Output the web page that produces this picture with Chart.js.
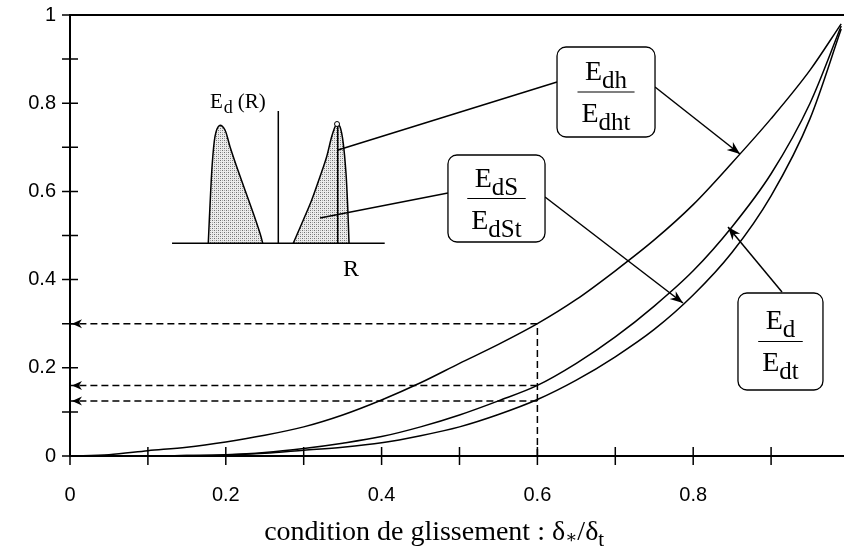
<!DOCTYPE html>
<html>
<head>
<meta charset="utf-8">
<script src="https://cdn.jsdelivr.net/npm/chart.js@4.4.1/dist/chart.umd.min.js"></script>
<style>
  html, body { margin: 0; padding: 0; background: #fff; overflow: hidden; }
  #chart { display: block; width: 844px; height: 553px; }
</style>
</head>
<body>
<canvas id="chart" width="844" height="553"></canvas>
<script>
// condition de glissement (delta* / delta_t)
const slip = [0, 0.05, 0.1, 0.15, 0.2, 0.25, 0.3, 0.35, 0.4, 0.45, 0.5, 0.55, 0.6, 0.65, 0.7, 0.75, 0.8, 0.85, 0.9, 0.95, 0.99];
// Edh / Edht (upper curve)
const edhRatio = [0, 0.003, 0.012, 0.02, 0.032, 0.047, 0.066, 0.093, 0.127, 0.166, 0.21, 0.253, 0.3, 0.355, 0.42, 0.49, 0.57, 0.665, 0.765, 0.875, 0.98];
// Ed / Edt (middle curve)
const edRatio = [0, 0, 0, 0.001, 0.003, 0.008, 0.017, 0.029, 0.044, 0.066, 0.093, 0.125, 0.16, 0.21, 0.27, 0.34, 0.42, 0.52, 0.64, 0.8, 0.975];
// EdS / EdSt (lower curve)
const edsRatio = [0, 0, 0, 0.001, 0.002, 0.006, 0.013, 0.02, 0.03, 0.046, 0.066, 0.094, 0.128, 0.172, 0.225, 0.287, 0.365, 0.462, 0.59, 0.765, 0.968];
// dashed read-off at slip = 0.6
const refSlip = 0.6;
const refLevels = [0.3, 0.16, 0.125];
const tickStep = 0.2;
const minorStep = 0.1;
const xVisibleMax = 0.9936; // the x axis runs past the right edge of the picture

const SERIF = '"Liberation Serif", "DejaVu Serif", serif';
const SANS = '"Liberation Sans", Arial, sans-serif';

function curve(values) {
    return {
        data: slip.map((s, i) => ({ x: s, y: values[i] })),
        borderColor: '#000',
        borderWidth: 1.5,
        pointRadius: 0,
        cubicInterpolationMode: 'monotone',
        fill: false
    };
}

function dashed(points) {
    return {
        data: points,
        borderColor: '#000',
        borderWidth: 1.5,
        borderDash: [7, 4],
        pointRadius: 0,
        fill: false
    };
}

const datasets = [curve(edhRatio), curve(edRatio), curve(edsRatio)];
datasets.push(dashed([{ x: refSlip, y: 0 }, { x: refSlip, y: refLevels[0] }]));
refLevels.forEach(l => datasets.push(dashed([{ x: refSlip, y: l }, { x: 0, y: l }])));

// inset sketch of Ed(R), in axis units
const insetBase = { x0: 0.131, x1: 0.404, y: 0.4823 };
const insetAxis = { x: 0.2674, y0: 0.4823, y1: 0.7823 };
const leftPeak = [[0.1775, 0.4823], [0.1795, 0.56], [0.1825, 0.66], [0.1861, 0.724], [0.1917, 0.749], [0.199, 0.7392], [0.2054, 0.7014], [0.214, 0.656], [0.2246, 0.6032], [0.2353, 0.5503], [0.2439, 0.505], [0.2474, 0.4823]];
const rightPeak = [[0.2866, 0.4823], [0.2995, 0.5351], [0.3103, 0.5805], [0.3209, 0.6333], [0.3295, 0.6787], [0.3359, 0.724], [0.3415, 0.7506], [0.3466, 0.7467], [0.3508, 0.7091], [0.3543, 0.641], [0.3565, 0.5653], [0.3582, 0.4823]];

// label boxes [x0, y0(top), x1, y1(bottom)] in axis units
const boxes = [
    { r: [0.6252, 0.9274, 0.751, 0.7234], num: ['E', 'dh'], den: ['E', 'dht'] },
    { r: [0.4852, 0.6825, 0.6098, 0.4853], num: ['E', 'dS'], den: ['E', 'dSt'] },
    { r: [0.8575, 0.3696, 0.9666, 0.1497], num: ['E', 'd'], den: ['E', 'dt'] }
];
const leaders = [
    [[0.6252, 0.8481], [0.344, 0.6939]],
    [[0.4852, 0.5964], [0.3209, 0.5397]]
];
const arrows = [
    [[0.751, 0.8367], [0.8601, 0.6848]],
    [[0.6098, 0.5873], [0.7869, 0.3469]],
    [[0.914, 0.3719], [0.8447, 0.5193]]
];

function makePattern(ctx) {
    const c = document.createElement('canvas');
    c.width = 4; c.height = 4;
    const p = c.getContext('2d');
    p.fillStyle = '#ececec';
    p.fillRect(0, 0, 4, 4);
    p.fillStyle = '#707070';
    p.fillRect(0, 0, 1, 1);
    p.fillRect(2, 2, 1, 1);
    p.fillStyle = '#a8a8a8';
    p.fillRect(2, 0, 1, 1);
    p.fillRect(0, 2, 1, 1);
    return ctx.createPattern(c, 'repeat');
}

// smooth path through points (Catmull-Rom)
function smoothPath(ctx, pts) {
    ctx.moveTo(pts[0][0], pts[0][1]);
    for (let i = 0; i < pts.length - 1; i++) {
        const p0 = pts[Math.max(i - 1, 0)], p1 = pts[i], p2 = pts[i + 1], p3 = pts[Math.min(i + 2, pts.length - 1)];
        ctx.bezierCurveTo(
            p1[0] + (p2[0] - p0[0]) / 6, p1[1] + (p2[1] - p0[1]) / 6,
            p2[0] - (p3[0] - p1[0]) / 6, p2[1] - (p3[1] - p1[1]) / 6,
            p2[0], p2[1]);
    }
}

function arrowHead(ctx, fx, fy, tx, ty, len, half) {
    const a = Math.atan2(ty - fy, tx - fx);
    ctx.beginPath();
    ctx.moveTo(tx, ty);
    ctx.lineTo(tx - len * Math.cos(a) + half * Math.sin(a), ty - len * Math.sin(a) - half * Math.cos(a));
    ctx.lineTo(tx - len * 0.7 * Math.cos(a), ty - len * 0.7 * Math.sin(a));
    ctx.lineTo(tx - len * Math.cos(a) - half * Math.sin(a), ty - len * Math.sin(a) + half * Math.cos(a));
    ctx.closePath();
    ctx.fill();
}

function subText(ctx, x, y, main, sub, size, subSize, drop) {
    ctx.font = size + 'px ' + SERIF;
    const w1 = ctx.measureText(main).width;
    ctx.font = subSize + 'px ' + SERIF;
    const w2 = ctx.measureText(sub).width;
    const start = x - (w1 + w2) / 2;
    ctx.font = size + 'px ' + SERIF;
    ctx.fillText(main, start, y);
    ctx.font = subSize + 'px ' + SERIF;
    ctx.fillText(sub, start + w1, y + drop);
    return w1 + w2;
}

const sketch = {
    id: 'sketch',
    afterDraw(chart) {
        const { ctx, scales: { x, y } } = chart;
        const X = v => x.getPixelForValue(v);
        const Y = v => y.getPixelForValue(v);
        ctx.save();
        ctx.strokeStyle = '#000';
        ctx.fillStyle = '#000';
        ctx.lineCap = 'butt';

        // top frame line
        ctx.lineWidth = 2;
        ctx.beginPath();
        ctx.moveTo(X(0), Y(1));
        ctx.lineTo(X(xVisibleMax), Y(1));
        ctx.stroke();

        // tick marks crossing the axes
        ctx.lineWidth = 1.5;
        for (let i = 0; i <= 10; i++) {
            const v = i * minorStep;
            ctx.beginPath();
            if (v <= xVisibleMax) {
                ctx.moveTo(X(v), Y(0) - 9);
                ctx.lineTo(X(v), Y(0) + 9);
            }
            ctx.moveTo(X(0) - 8, Y(v));
            ctx.lineTo(X(0) + 8, Y(v));
            ctx.stroke();
        }

        // arrowheads of the dashed read-off lines
        refLevels.forEach(l => arrowHead(ctx, X(refSlip), Y(l), X(0) + 2, Y(l), 10, 4.5));

        // inset
        const pat = makePattern(ctx);
        [leftPeak, rightPeak].forEach(pk => {
            const pts = pk.map(p => [X(p[0]), Y(p[1])]);
            ctx.beginPath();
            smoothPath(ctx, pts);
            ctx.closePath();
            ctx.fillStyle = pat;
            ctx.fill();
            ctx.lineWidth = 1.5;
            ctx.beginPath();
            smoothPath(ctx, pts);
            ctx.stroke();
        });
        ctx.fillStyle = '#000';
        ctx.lineWidth = 1.5;
        ctx.beginPath();
        ctx.moveTo(X(insetBase.x0), Y(insetBase.y));
        ctx.lineTo(X(insetBase.x1), Y(insetBase.y));
        ctx.moveTo(X(insetAxis.x), Y(insetAxis.y0));
        ctx.lineTo(X(insetAxis.x), Y(insetAxis.y1));
        ctx.moveTo(X(0.3437), Y(0.748));
        ctx.lineTo(X(0.3437), Y(insetBase.y));
        ctx.stroke();
        ctx.lineWidth = 1;
        ctx.beginPath();
        ctx.arc(X(0.3428), Y(0.7528), 2.5, 0, Math.PI * 2);
        ctx.fillStyle = '#fff';
        ctx.fill();
        ctx.stroke();
        ctx.fillStyle = '#000';

        ctx.textBaseline = 'alphabetic';
        ctx.textAlign = 'left';
        ctx.font = '21px ' + SERIF;
        const ex = X(0.1797), ey = Y(0.7823) - 3;
        ctx.fillText('E', ex, ey);
        const we = ctx.measureText('E').width;
        ctx.font = '18px ' + SERIF;
        ctx.fillText('d', ex + we + 1, ey + 5);
        const wd = ctx.measureText('d').width;
        ctx.font = '21px ' + SERIF;
        ctx.fillText('(R)', ex + we + wd + 6, ey);
        ctx.font = '24px ' + SERIF;
        ctx.fillText('R', X(0.3505), Y(0.408));

        // leader lines and arrows
        ctx.lineWidth = 1.5;
        leaders.concat(arrows).forEach(s => {
            ctx.beginPath();
            ctx.moveTo(X(s[0][0]), Y(s[0][1]));
            ctx.lineTo(X(s[1][0]), Y(s[1][1]));
            ctx.stroke();
        });
        arrows.forEach(s => arrowHead(ctx, X(s[0][0]), Y(s[0][1]), X(s[1][0]), Y(s[1][1]), 13, 5));

        // label boxes with fractions
        boxes.forEach(b => {
            const x0 = X(b.r[0]), y0 = Y(b.r[1]), x1 = X(b.r[2]), y1 = Y(b.r[3]);
            ctx.fillStyle = '#fff';
            ctx.lineWidth = 1.3;
            ctx.beginPath();
            ctx.roundRect(x0, y0, x1 - x0, y1 - y0, 9);
            ctx.fill();
            ctx.stroke();
            ctx.fillStyle = '#000';
            const cx = (x0 + x1) / 2, cy = (y0 + y1) / 2;
            const wn = subText(ctx, cx, cy - 12, b.num[0], b.num[1], 28, 25, 8);
            const wdn = subText(ctx, cx, cy + 30, b.den[0], b.den[1], 28, 25, 8);
            const bw = Math.max(wn, wdn) + 8;
            ctx.lineWidth = 1.2;
            ctx.beginPath();
            ctx.moveTo(cx - bw / 2, cy);
            ctx.lineTo(cx + bw / 2, cy);
            ctx.stroke();
        });

        // axis title: condition de glissement : δ∗/δt
        const part1 = 'condition de glissement : δ';
        ctx.font = '28px ' + SERIF;
        const w1 = ctx.measureText(part1).width, w3 = ctx.measureText('/δ').width;
        ctx.font = '18px ' + SERIF;
        const w2 = ctx.measureText('∗').width;
        ctx.font = '21px ' + SERIF;
        const w4 = ctx.measureText('t').width;
        let tx = X(0.4675) - (w1 + w2 + w3 + w4) / 2;
        const ty = Y(-0.1905);
        ctx.font = '28px ' + SERIF;
        ctx.fillText(part1, tx, ty);
        tx += w1;
        ctx.font = '18px ' + SERIF;
        ctx.fillText('∗', tx, ty + 3);
        tx += w2;
        ctx.font = '28px ' + SERIF;
        ctx.fillText('/δ', tx, ty);
        tx += w3;
        ctx.font = '21px ' + SERIF;
        ctx.fillText('t', tx, ty + 6);

        ctx.restore();
    }
};

function noOverflow(s) {
    s.paddingTop = 0;
    s.paddingBottom = 0;
    s.paddingLeft = 0;
    s.paddingRight = 0;
}

new Chart(document.getElementById('chart').getContext('2d'), {
    type: 'line',
    data: { datasets: datasets },
    options: {
        responsive: false,
        animation: false,
        events: [],
        layout: { padding: { top: 15, right: 0, left: 0, bottom: 0 } },
        plugins: { legend: { display: false }, tooltip: { enabled: false } },
        scales: {
            x: {
                type: 'linear',
                min: 0,
                max: xVisibleMax,
                afterFit: s => { s.height = 97; noOverflow(s); },
                grid: { display: false, drawTicks: false },
                border: { display: true, color: '#000', width: 2 },
                ticks: {
                    stepSize: tickStep,
                    includeBounds: false,
                    padding: 27,
                    color: '#000',
                    font: { family: SANS, size: 20 },
                    maxRotation: 0,
                    callback: v => String(Number(v.toFixed(2)))
                }
            },
            y: {
                min: 0,
                max: 1,
                afterFit: s => { s.width = 70; noOverflow(s); },
                grid: { display: false, drawTicks: false },
                border: { display: true, color: '#000', width: 2 },
                ticks: {
                    stepSize: tickStep,
                    padding: 14,
                    color: '#000',
                    font: { family: SANS, size: 20 },
                    callback: v => String(Number(v.toFixed(2)))
                }
            }
        }
    },
    plugins: [sketch]
});
</script>
</body>
</html>
